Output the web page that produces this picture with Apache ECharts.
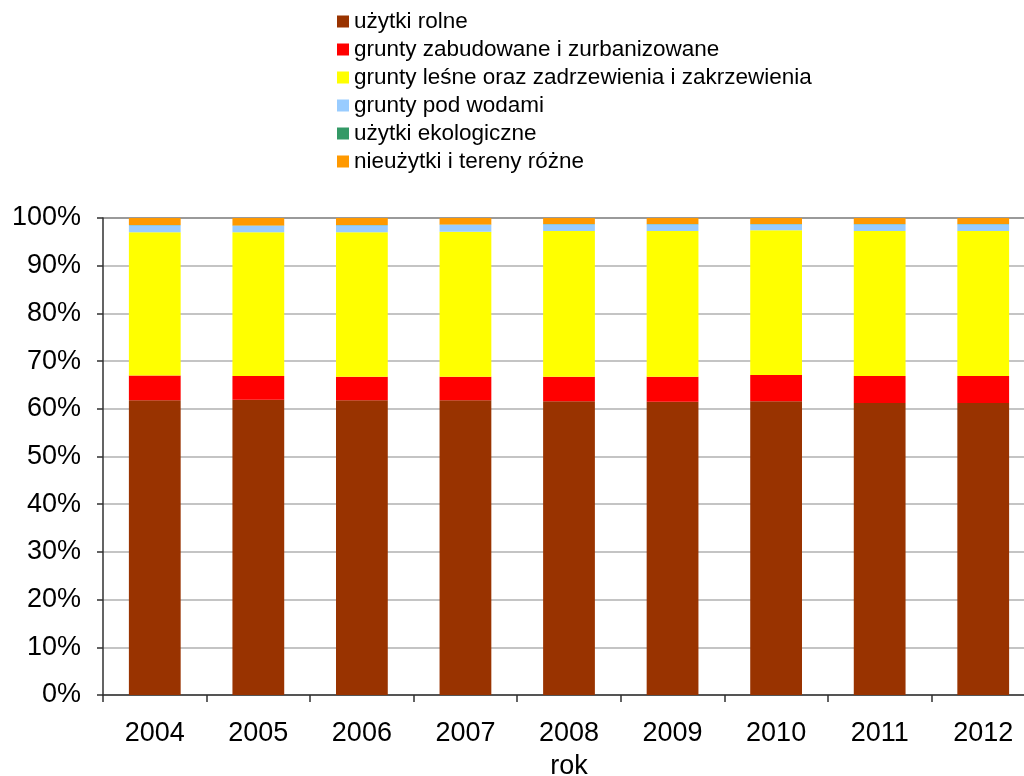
<!DOCTYPE html>
<html>
<head>
<meta charset="utf-8">
<script src="https://cdn.jsdelivr.net/npm/echarts@6/dist/echarts.min.js"></script>
<style>
  html, body { margin: 0; padding: 0; background: #ffffff; }
  #chart { width: 1024px; height: 776px; }
</style>
</head>
<body>
<div id="chart"></div>
<script>
// Struktura użytkowania gruntów (% powierzchni), lata 2004–2012
const years = ['2004', '2005', '2006', '2007', '2008', '2009', '2010', '2011', '2012'];

const uzytkiRolne   = [61.8, 61.9, 61.8, 61.8, 61.6, 61.5, 61.6, 61.2, 61.2];
const gruntyZabud   = [5.2, 5.0, 4.9, 4.9, 5.1, 5.2, 5.5, 5.7, 5.7];
const gruntyLesne   = [30.0, 30.1, 30.3, 30.4, 30.55, 30.6, 30.35, 30.4, 30.4];
const gruntyPodWod  = [1.5, 1.4, 1.5, 1.5, 1.45, 1.4, 1.25, 1.4, 1.4];
const uzytkiEkolog  = [0.05, 0.05, 0.05, 0.05, 0.05, 0.05, 0.05, 0.05, 0.05];
const nieuzytki     = [1.45, 1.55, 1.45, 1.35, 1.25, 1.25, 1.25, 1.25, 1.25];

const yTicks = [0, 10, 20, 30, 40, 50, 60, 70, 80, 90, 100];

const seriesDefs = [
  { name: 'użytki rolne', data: uzytkiRolne, color: '#993300' },
  { name: 'grunty zabudowane i zurbanizowane', data: gruntyZabud, color: '#FF0000' },
  { name: 'grunty leśne oraz zadrzewienia i zakrzewienia', data: gruntyLesne, color: '#FFFF00' },
  { name: 'grunty pod wodami', data: gruntyPodWod, color: '#99CCFF' },
  { name: 'użytki ekologiczne', data: uzytkiEkolog, color: '#339966' },
  { name: 'nieużytki i tereny różne', data: nieuzytki, color: '#FF9900' }
];

const font = '"Liberation Sans", Arial, sans-serif';

const chart = echarts.init(document.getElementById('chart'), null, { renderer: 'canvas' });

// grid lines: light grey, the top (100%) line a little darker
const gridColors = yTicks.map((v, i) => i === yTicks.length - 1 ? '#9a9a9a' : '#c4c4c4');

chart.setOption({
  animation: false,
  backgroundColor: '#ffffff',
  textStyle: { fontFamily: font },
  legend: {
    orient: 'vertical',
    left: 332,
    top: 5,
    itemWidth: 12,
    itemHeight: 12,
    itemGap: 5,
    icon: 'rect',
    selectedMode: false,
    textStyle: { fontFamily: font, fontSize: 22.5, color: '#000', lineHeight: 22 },
    data: seriesDefs.map(s => s.name)
  },
  grid: {
    left: 103,
    right: -11,
    top: 218,
    bottom: 81,
    outerBoundsMode: 'none',
    containLabel: false
  },
  xAxis: {
    type: 'category',
    data: years,
    boundaryGap: true,
    name: 'rok',
    nameLocation: 'middle',
    nameGap: 58,
    nameTextStyle: { fontFamily: font, fontSize: 27, color: '#000' },
    axisLine: { show: true, lineStyle: { color: '#303030', width: 1.5 } },
    axisTick: { show: true, length: 7, inside: false, alignWithLabel: false, lineStyle: { color: '#303030', width: 1.5 } },
    axisLabel: { fontFamily: font, fontSize: 27, color: '#000', margin: 25, interval: 0 },
    splitLine: { show: false }
  },
  yAxis: {
    type: 'value',
    min: 0,
    max: 100,
    interval: 10,
    axisLine: { show: true, lineStyle: { color: '#303030', width: 1.5 } },
    axisTick: { show: true, length: 6, inside: false, lineStyle: { color: '#303030', width: 1.5 } },
    axisLabel: { fontFamily: font, fontSize: 27, color: '#000', margin: 22, formatter: '{value}%' },
    splitLine: { show: true, lineStyle: { color: gridColors, width: 2 } }
  },
  series: seriesDefs.map(s => ({
    name: s.name,
    type: 'bar',
    stack: 'total',
    data: s.data,
    barCategoryGap: '50%',
    itemStyle: { color: s.color },
    emphasis: { disabled: true }
  }))
});
</script>
</body>
</html>
